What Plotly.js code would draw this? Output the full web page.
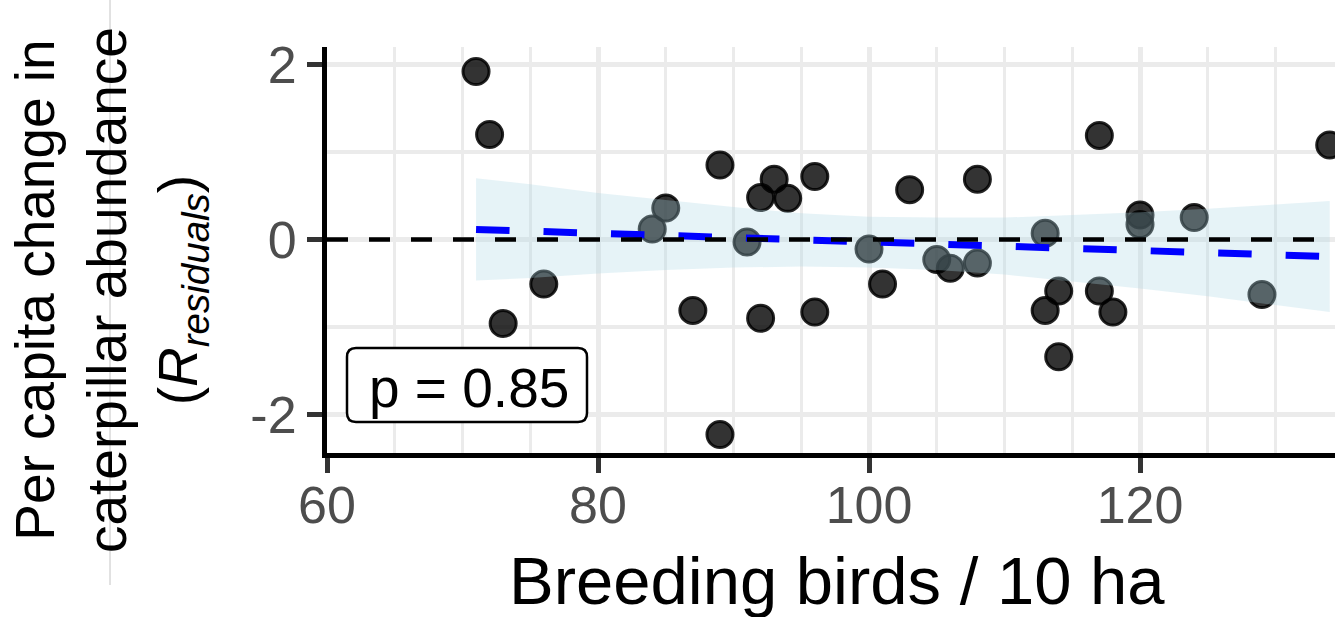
<!DOCTYPE html>
<html>
<head>
<meta charset="utf-8">
<script src="https://cdn.plot.ly/plotly-3.0.1.min.js"></script>
<style>
html,body{margin:0;padding:0;background:#ffffff;}
#chart{width:1335px;height:617px;}
</style>
</head>
<body>
<div id="chart"></div>
<script>
// ---- data ----
const birds = [71,72,73,76,84,85,87,89,89,91,92,92,93,94,96,96,100,101,103,105,106,108,108,113,113,114,114,117,117,118,120,120,124,129,134];
const residuals = [1.92,1.20,-0.96,-0.51,0.12,0.36,-0.81,0.85,-2.23,-0.03,0.48,-0.90,0.69,0.47,0.72,-0.83,-0.11,-0.51,0.57,-0.23,-0.33,-0.27,0.69,0.07,-0.81,-0.59,-1.34,1.19,-0.59,-0.83,0.28,0.17,0.25,-0.63,1.08];

const fitX = [71, 134];
const fitY = [0.115, -0.195];

const bandX = [71,75,80,85,90,95,100,105,110,115,120,125,130,134];
const bandUpper = [0.70,0.63,0.53,0.45,0.37,0.30,0.26,0.25,0.25,0.28,0.31,0.35,0.40,0.44];
const bandLower = [-0.47,-0.44,-0.39,-0.35,-0.32,-0.31,-0.32,-0.35,-0.40,-0.48,-0.56,-0.65,-0.75,-0.83];

const xTickVals = [60, 80, 100, 120];
const xTickText = ['60', '80', '100', '120'];
const yTickVals = [-2, 0, 2];
const yTickText = ['-2', '0', '2'];

const xTitle = 'Breeding birds / 10 ha';
const yTitle = 'Per capita change in<br>caterpillar abundance<br>(<i>R</i><sub><i>residuals</i></sub>)';
const pLabel = 'p = 0.85';

// ---- layout geometry ----
const ML = 327, MT = 47, PW = 1008, PH = 406;
const FIG_W = 1335, FIG_H = 617;
const px2x = p => (p - ML) / PW;
const px2y = p => (MT + PH - p) / PH;

function roundRect(x0, y0, x1, y1, r) {
  const X = px2x, Y = px2y;
  return 'M' + X(x0 + r) + ',' + Y(y0) +
    ' L' + X(x1 - r) + ',' + Y(y0) +
    ' Q' + X(x1) + ',' + Y(y0) + ' ' + X(x1) + ',' + Y(y0 + r) +
    ' L' + X(x1) + ',' + Y(y1 - r) +
    ' Q' + X(x1) + ',' + Y(y1) + ' ' + X(x1 - r) + ',' + Y(y1) +
    ' L' + X(x0 + r) + ',' + Y(y1) +
    ' Q' + X(x0) + ',' + Y(y1) + ' ' + X(x0) + ',' + Y(y1 - r) +
    ' L' + X(x0) + ',' + Y(y0 + r) +
    ' Q' + X(x0) + ',' + Y(y0) + ' ' + X(x0 + r) + ',' + Y(y0) + ' Z';
}

const FONT = 'Liberation Sans, Arial, Helvetica, sans-serif';

const traces = [
  {
    type: 'scatter', mode: 'markers', x: birds, y: residuals,
    marker: {size: 26, color: 'rgba(0,0,0,0.8)', line: {color: 'rgba(0,0,0,0.85)', width: 3}},
    hoverinfo: 'skip'
  },
  {
    type: 'scatter', mode: 'none',
    x: bandX.concat(bandX.slice().reverse()),
    y: bandUpper.concat(bandLower.slice().reverse()),
    fill: 'toself', fillcolor: 'rgba(173,216,230,0.3)',
    hoverinfo: 'skip'
  },
  {
    type: 'scatter', mode: 'lines', x: fitX, y: fitY,
    line: {color: '#0000ff', width: 7, dash: '33.5px,34px'},
    hoverinfo: 'skip'
  }
];

const layout = {
  width: FIG_W, height: FIG_H,
  margin: {l: ML, r: FIG_W - ML - PW, t: MT, b: FIG_H - MT - PH, pad: 0},
  paper_bgcolor: '#ffffff', plot_bgcolor: '#ffffff',
  showlegend: false,
  font: {family: FONT, color: '#000000'},
  xaxis: {
    range: [60, 60 + PW / 13.55],
    tickmode: 'array', tickvals: xTickVals, ticktext: xTickText,
    showgrid: true, gridcolor: '#ebebeb', gridwidth: 5,
    minor: {tickmode: 'linear', tick0: 60, dtick: 5, showgrid: true, gridcolor: '#ebebeb', gridwidth: 3, ticks: ''},
    zeroline: false,
    showline: true, linecolor: '#000000', linewidth: 5,
    ticks: 'outside', ticklen: 15, tickwidth: 5, tickcolor: '#333333',
    ticklabelstandoff: -12,
    tickfont: {family: FONT, size: 52, color: '#4d4d4d'},
    automargin: false, fixedrange: true
  },
  yaxis: {
    range: [-2.44, 2.2],
    tickmode: 'array', tickvals: yTickVals, ticktext: yTickText,
    showgrid: true, gridcolor: '#ebebeb', gridwidth: 5,
    minor: {tickmode: 'linear', tick0: 0, dtick: 1, showgrid: true, gridcolor: '#ebebeb', gridwidth: 4, ticks: ''},
    zeroline: false,
    showline: true, linecolor: '#000000', linewidth: 5,
    ticks: 'outside', ticklen: 15, tickwidth: 5, tickcolor: '#333333',
    tickfont: {family: FONT, size: 52, color: '#4d4d4d'},
    automargin: false, fixedrange: true
  },
  shapes: [
    {type: 'line', xref: 'paper', yref: 'paper', x0: px2x(110), x1: px2x(110), y0: px2y(585), y1: px2y(0),
     line: {color: '#c4c4c4', width: 1}, layer: 'below'},
    {type: 'line', xref: 'paper', yref: 'y', x0: 0, x1: 1, y0: 0, y1: 0,
     line: {color: '#000000', width: 4.5, dash: '21px,21px'}, layer: 'above'},
    {type: 'path', xref: 'paper', yref: 'paper', path: roundRect(347, 348, 587, 422, 9),
     fillcolor: '#ffffff', line: {color: '#000000', width: 2.5}, layer: 'above'}
  ],
  annotations: [
    {xref: 'paper', yref: 'paper', x: px2x(836.5), y: px2y(580), xanchor: 'center', yanchor: 'middle',
     text: xTitle, showarrow: false, font: {family: FONT, size: 67, color: '#000000'}},
    {xref: 'paper', yref: 'paper', x: px2x(110), y: px2y(290), xanchor: 'center', yanchor: 'middle',
     text: yTitle, textangle: -90, showarrow: false, align: 'center',
     font: {family: FONT, size: 55, color: '#000000'}},
    {xref: 'paper', yref: 'paper', x: px2x(468.5), y: px2y(388), xanchor: 'center', yanchor: 'middle',
     text: pLabel, showarrow: false, font: {family: FONT, size: 55, color: '#000000'}}
  ]
};

Plotly.newPlot('chart', traces, layout, {staticPlot: true, displayModeBar: false});
</script>
</body>
</html>
